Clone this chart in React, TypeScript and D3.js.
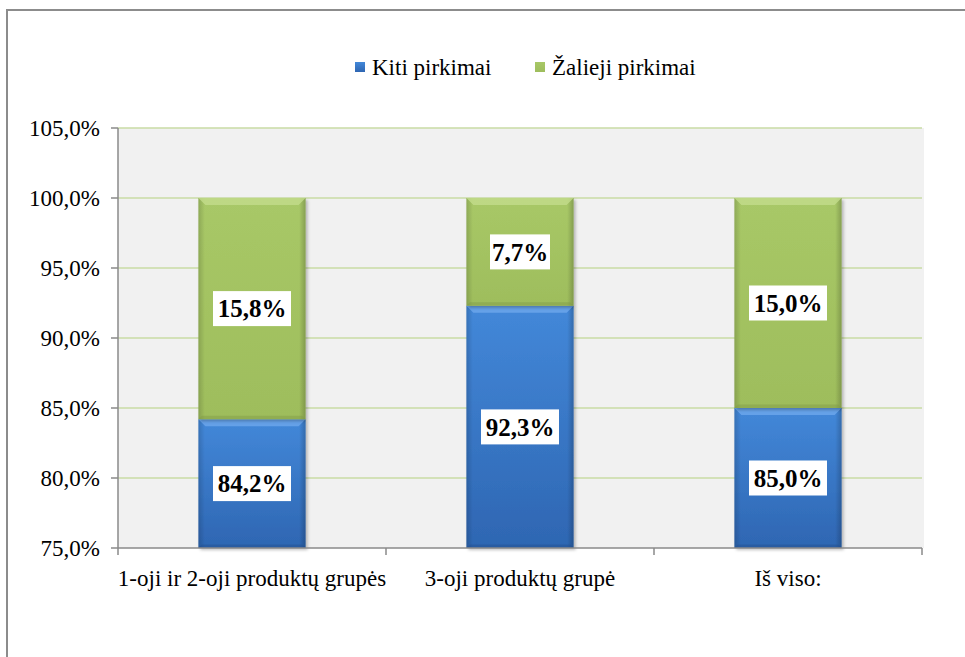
import * as d3 from 'd3';

const categories = ['1-oji ir 2-oji produktų grupės', '3-oji produktų grupė', 'Iš viso:'];
const kitiPirkimai = [84.2, 92.3, 85.0];
const zaliejiPirkimai = [15.8, 7.7, 15.0];
const yTicks = [75, 80, 85, 90, 95, 100, 105];
const seriesNames = ['Kiti pirkimai', 'Žalieji pirkimai'];

const width = 965;
const height = 657;
const plot = {left: 118, right: 922, top: 128, bottom: 548};
const font = '"Liberation Serif", "Times New Roman", serif';

const lt = d3.formatLocale({decimal: ',', thousands: ' ', grouping: [3], currency: ['', '']});
const pct = (v: number) => lt.format('.1f')(v) + '%';

export default function App() {
    const x = d3.scaleBand<string>().domain(categories).range([plot.left, plot.right]).paddingInner(0.6).paddingOuter(0.3);
    const xTicks = d3.scaleLinear().domain([0, categories.length]).range([plot.left, plot.right]);
    const y = d3.scaleLinear().domain([75, 105]).range([plot.bottom, plot.top]);
    const bw = x.bandwidth();
    const bev = 7;

    const segments = categories.flatMap((c, i) => {
        const x0 = x(c)!;
        return [
            {key: 'k' + i, series: 0, x0, y0: y(75), y1: y(kitiPirkimai[i]), label: pct(kitiPirkimai[i]), mid: (75 + kitiPirkimai[i]) / 2},
            {
                key: 'z' + i,
                series: 1,
                x0,
                y0: y(kitiPirkimai[i]),
                y1: y(kitiPirkimai[i] + zaliejiPirkimai[i]),
                label: pct(zaliejiPirkimai[i]),
                mid: kitiPirkimai[i] + zaliejiPirkimai[i] / 2,
            },
        ];
    });

    const legendX = [355, 535];

    return (
        <svg width={width} height={height} style={{position: 'absolute', left: 0, top: 0, background: '#fff'}} fontFamily={font}>
            <defs>
                <linearGradient id="gBlue" x1="0" y1="0" x2="0" y2="1">
                    <stop offset="0" stopColor="#4388d9" />
                    <stop offset="1" stopColor="#2e66b2" />
                </linearGradient>
                <linearGradient id="gGreen" x1="0" y1="0" x2="0" y2="1">
                    <stop offset="0" stopColor="#a8c867" />
                    <stop offset="1" stopColor="#9ebd5c" />
                </linearGradient>
                <linearGradient id="sides" x1="0" y1="0" x2="1" y2="0">
                    <stop offset="0" stopColor="#000" stopOpacity="0.15" />
                    <stop offset="0.06" stopColor="#000" stopOpacity="0" />
                    <stop offset="0.94" stopColor="#000" stopOpacity="0" />
                    <stop offset="1" stopColor="#000" stopOpacity="0.2" />
                </linearGradient>
                <filter id="shadow" x="-10%" y="-10%" width="130%" height="130%">
                    <feDropShadow dx="2" dy="2" stdDeviation="1.5" floodColor="#000" floodOpacity="0.25" />
                </filter>
            </defs>

            {/* outer chart border (only top/left visible) */}
            <path d={`M7,${height} V10 H${width}`} fill="none" stroke="#8c8c8c" strokeWidth={2} />

            {/* legend */}
            {seriesNames.map((s, i) => (
                <g key={s} transform={`translate(${legendX[i]},67)`}>
                    <rect x={0} y={-5} width={10} height={10} fill={i === 0 ? 'url(#gBlue)' : 'url(#gGreen)'} />
                    <text x={17} y={0} dy="0.35em" fontSize={23} fill="#000">
                        {s}
                    </text>
                </g>
            ))}

            {/* plot area */}
            <rect x={plot.left} y={plot.top} width={plot.right - plot.left + 2} height={plot.bottom - plot.top} fill="#f1f1f1" />
            {yTicks.slice(1).map((t) => (
                <line key={t} x1={plot.left} x2={plot.right} y1={y(t)} y2={y(t)} stroke="#c9dba5" strokeWidth={1.5} />
            ))}

            {/* bars */}
            {segments.map((s) => {
                const x1 = s.x0 + bw;
                const top = Math.min(s.y0, s.y1);
                const h = Math.abs(s.y0 - s.y1);
                const base = s.series === 0 ? 'url(#gBlue)' : 'url(#gGreen)';
                const light = s.series === 0 ? '#6ea8ec' : '#c3dc8c';
                const dark = s.series === 0 ? '#234f8f' : '#7f9a48';
                return (
                    <g key={s.key}>
                        <rect x={s.x0} y={top} width={bw} height={h} fill={base} filter="url(#shadow)" />
                        <rect x={s.x0} y={top} width={bw} height={h} fill="url(#sides)" />
                        <path d={`M${s.x0},${top} H${x1} L${x1 - bev},${top + bev} H${s.x0 + bev} Z`} fill={light} opacity={0.8} />
                        <path
                            d={`M${s.x0},${top + h} H${x1} L${x1 - bev / 2},${top + h - bev / 2} H${s.x0 + bev / 2} Z`}
                            fill={dark}
                            opacity={0.45}
                        />
                    </g>
                );
            })}

            {/* data labels */}
            {segments.map((s) => {
                const cx = s.x0 + bw / 2;
                const cy = y(s.mid);
                const w = s.label.length > 4 ? 78 : 60;
                return (
                    <g key={'l' + s.key}>
                        <rect x={cx - w / 2} y={cy - 17.5} width={w} height={35} fill="#fff" />
                        <text x={cx} y={cy} dy="0.35em" textAnchor="middle" fontSize={25} fontWeight="bold" fill="#000">
                            {s.label}
                        </text>
                    </g>
                );
            })}

            {/* y axis */}
            <line x1={plot.left} x2={plot.left} y1={plot.top} y2={plot.bottom} stroke="#8a8a8a" strokeWidth={1.5} />
            {yTicks.map((t) => (
                <g key={t} transform={`translate(0,${y(t)})`}>
                    <line x1={plot.left - 7} x2={plot.left} stroke="#8a8a8a" strokeWidth={1.5} />
                    <text x={100} dy="0.35em" textAnchor="end" fontSize={23} fill="#000">
                        {pct(t)}
                    </text>
                </g>
            ))}

            {/* x axis */}
            <line x1={plot.left} x2={plot.right} y1={plot.bottom} y2={plot.bottom} stroke="#8a8a8a" strokeWidth={1.5} />
            {d3.range(categories.length + 1).map((i) => (
                <line key={i} x1={xTicks(i)} x2={xTicks(i)} y1={plot.bottom} y2={plot.bottom + 7} stroke="#8a8a8a" strokeWidth={1.5} />
            ))}
            {categories.map((c) => (
                <text key={c} x={x(c)! + bw / 2} y={578} dy="0.35em" textAnchor="middle" fontSize={23} fill="#000">
                    {c}
                </text>
            ))}
        </svg>
    );
}
